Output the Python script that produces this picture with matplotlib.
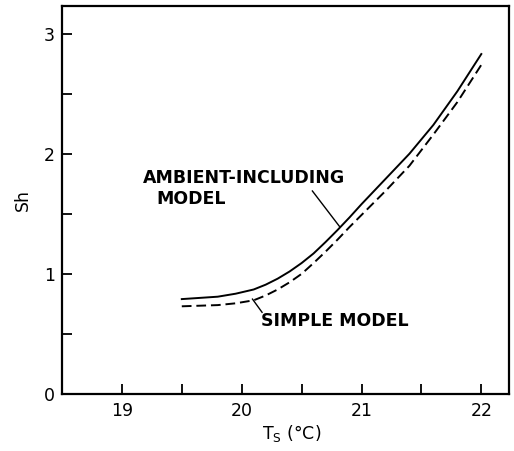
import numpy as np
import matplotlib
matplotlib.use("Agg")
import matplotlib.pyplot as plt
from matplotlib.ticker import MultipleLocator

plt.rcParams["font.family"] = ["DejaVu Sans"]

# surface temperature (deg C) and Sherwood number
ts = [19.5, 19.65, 19.8, 19.95, 20.1, 20.2, 20.3, 20.4, 20.5, 20.6, 20.7,
      20.8, 20.9, 21.0, 21.2, 21.4, 21.6, 21.8, 22.0]
sh_ambient = [0.79, 0.80, 0.81, 0.835, 0.87, 0.91, 0.96, 1.02, 1.09, 1.17, 1.265,
              1.365, 1.47, 1.58, 1.79, 2.00, 2.24, 2.52, 2.83]
sh_simple = [0.73, 0.735, 0.74, 0.755, 0.78, 0.82, 0.87, 0.93, 1.00, 1.09, 1.185,
             1.285, 1.39, 1.49, 1.69, 1.90, 2.16, 2.43, 2.74]

fig = plt.figure(figsize=(5.14, 4.51), dpi=100)
ax = fig.add_axes([0.1206, 0.1264, 0.8694, 0.8603])

ax.plot(ts, sh_ambient, color="black", lw=1.4)
ax.plot(ts, sh_simple, color="black", lw=1.4, dashes=(5, 2.5))

ax.set_xlim(18.5, 22.23)
ax.set_ylim(0, 3.23)
ax.set_xticks([19, 20, 21, 22])
ax.set_yticks([0, 1, 2, 3])
ax.xaxis.set_minor_locator(MultipleLocator(0.5))
ax.yaxis.set_minor_locator(MultipleLocator(0.5))
ax.tick_params(which="both", direction="in", length=7, width=1.3, labelsize=12.5)
ax.tick_params(axis="x", pad=6)
ax.tick_params(axis="y", pad=5)
for s in ax.spines.values():
    s.set_linewidth(1.6)

ax.set_xlabel("T$_\\mathregular{S}$ (°C)", fontsize=12.5, labelpad=6)
ax.xaxis.set_label_coords(0.515, -0.075)
ax.set_ylabel("Sh", fontsize=12.5, labelpad=9)

ax.text(20.02, 1.80, "AMBIENT-INCLUDING", fontsize=12.5, fontweight="bold",
        ha="center", va="center")
ax.text(19.58, 1.62, "MODEL", fontsize=12.5, fontweight="bold",
        ha="center", va="center")
ax.plot([20.59, 20.82], [1.69, 1.39], color="black", lw=1.0)

ax.text(20.78, 0.61, "SIMPLE MODEL", fontsize=12.5, fontweight="bold",
        ha="center", va="center")
ax.plot([20.09, 20.17], [0.79, 0.68], color="black", lw=1.0)

fig.savefig("out.png", dpi=100)
